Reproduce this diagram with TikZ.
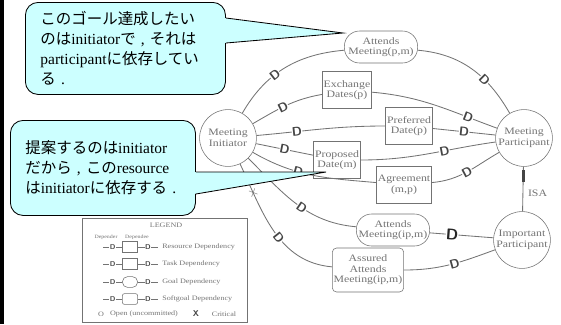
\documentclass[tikz,border=0pt]{standalone}
\usepackage{fontspec}
\setmainfont{Liberation Serif}
\newfontfamily\cjk{Noto Sans CJK JP}
\newfontfamily\diag[FakeStretch=1.2]{Liberation Serif}
\usetikzlibrary{shapes.geometric,shapes.misc,calc}

\definecolor{ink}{gray}{0.45}
\definecolor{notefill}{RGB}{204,255,255}

\begin{document}
\begin{tikzpicture}[
    x=0.025cm, y=-0.025cm,
    actor/.style={circle, draw=ink, fill=white, minimum size=1.42cm,
        inner sep=0pt, align=center, text=ink,
        font=\diag\fontsize{7}{7.5}\selectfont},
    resource/.style={rectangle, draw=ink, fill=white, minimum width=1.03cm,
        minimum height=0.92cm, inner sep=1pt, align=center, text=ink,
        font=\diag\fontsize{7}{7.5}\selectfont},
    goal/.style={resource, rounded corners=0.38cm, minimum width=1.83cm,
        minimum height=0.8cm},
    softgoal/.style={resource, rounded corners=3pt, minimum width=1.35cm,
        minimum height=1.1cm},
    link/.style={draw=ink, line width=0.6pt},
    dep/.style={sloped, fill=white, inner sep=0.2pt, text=ink!60!black,
        font=\sffamily\bfseries\fontsize{9}{9}\selectfont},
    crit/.style={dep, text=black!85, font=\sffamily\bfseries\fontsize{11}{11}\selectfont},
    isabar/.style={rectangle, fill=ink!60!black, minimum width=1.8pt,
        minimum height=0.3cm, inner sep=0pt},
    note/.style={rectangle, rounded corners=9pt, draw=black, line width=0.6pt,
        fill=notefill, align=left, inner xsep=0.375cm, inner ysep=0pt,
        font=\fontsize{11}{14.2}\selectfont},
    legtext/.style={text=ink, inner sep=0pt,
        font=\diag\fontsize{4.8}{5}\selectfont},
    ldep/.style={dep, font=\sffamily\bfseries\fontsize{5}{5}\selectfont},
    lshape/.style={draw=ink, fill=white, minimum width=0.38cm,
        minimum height=0.27cm, inner sep=0pt}
]
    \useasboundingbox (0,0) rectangle (561,324);
    \draw[line width=2.2pt] (2,0) -- (2,324);

    % actors
    \node[actor] (mi) at (228,138) {Meeting\\Initiator};
    \node[actor] (mp) at (524,138) {Meeting\\Participant};
    \node[actor] (ip) at (522,240) {Important\\Participant};

    % dependums
    \node[goal] (amp) at (381,47) {Attends\\Meeting(p,m)};
    \node[resource] (ex) at (347,90) {Exchange\\Dates(p)};
    \node[resource] (pref) at (409,126) {Preferred\\Date(p)};
    \node[resource] (prop) at (337,160) {Proposed\\Date(m)};
    \node[resource] (agr) at (404,185) {Agreement\\(m,p)};
    \node[goal] (aip) at (393,230) {Attends\\Meeting(ip,m)};
    \node[softgoal] (sg) at (368,270) {Assured\\Attends\\Meeting(ip,m)};

    % dependencies
    \draw[link] (mi) to[out=60, in=185] node[dep, pos=0.4] {D} (amp);
    \draw[link] (amp) to[out=-5, in=120] node[dep, pos=0.65] {D} (mp);
    \draw[link] (mi) to[out=30, in=190] node[dep, pos=0.45] {D} (ex);
    \draw[link] (ex) to[out=-5, in=160] node[dep, pos=0.78] {D} (mp);
    \draw[link] (mi) to[out=5, in=180] node[dep, pos=0.3] {D} (pref);
    \draw[link] (pref) -- node[dep, pos=0.5] {D} (mp);
    \draw[link] (mi) -- node[dep, pos=0.5] {D} (prop);
    \draw[link] (prop) to[out=0, in=188] node[dep, pos=0.63] {D} (mp);
    \draw[link] (mi) to[out=-30, in=175] node[dep, pos=0.38] {D} (agr);
    \draw[link] (agr) to[out=5, in=210] node[dep, pos=0.5] {D} (mp);
    \draw[link] (mi) to[out=-45, in=175] node[dep, pos=0.55] {D} (aip);
    \draw[link] (aip) -- node[crit, pos=0.35] {D} (ip);
    \draw[link] (mi) to[out=-65, in=175]
        node[pos=0.2, sloped, text=ink, inner sep=0pt] {$\times$}
        node[dep, pos=0.55] {D} (sg);
    \draw[link] (sg) to[out=0, in=200] node[dep, pos=0.55] {D} (ip);
    \draw[link] (mp) -- node[isabar, pos=0.2] {}
        node[pos=0.6, right, text=ink, font=\diag\fontsize{7}{7}\selectfont] {ISA} (ip);

    % legend
    \node[draw=ink, anchor=north west, minimum width=4.12cm,
        minimum height=2.6cm] (legend) at (82,218) {};
    \node[legtext] at (166,225) {LEGEND};
    \node[legtext, font=\diag\fontsize{3.5}{4}\selectfont] at (106,237) {Depender};
    \node[legtext, font=\diag\fontsize{3.5}{4}\selectfont] at (137,237) {Dependee};

    \node[lshape] (res) at (130,247) {};
    \coordinate (res1) at (103,247);
    \coordinate (res2) at (158,247);
    \draw[link] (res1) -- node[ldep] {D} (res);
    \draw[link] (res) -- node[ldep] {D} (res2);
    \node[legtext, anchor=west] at (162,247) {Resource Dependency};

    \node[lshape, chamfered rectangle, chamfered rectangle xsep=2pt] (task) at (130,264) {};
    \coordinate (task1) at (103,264);
    \coordinate (task2) at (158,264);
    \draw[link] (task1) -- node[ldep] {D} (task);
    \draw[link] (task) -- node[ldep] {D} (task2);
    \node[legtext, anchor=west] at (162,264) {Task Dependency};

    \node[lshape, rounded corners=0.13cm] (gl) at (130,282) {};
    \coordinate (gl1) at (103,282);
    \coordinate (gl2) at (158,282);
    \draw[link] (gl1) -- node[ldep] {D} (gl);
    \draw[link] (gl) -- node[ldep] {D} (gl2);
    \node[legtext, anchor=west] at (162,282) {Goal Dependency};

    \node[lshape, rounded corners=1.5pt] (soft) at (130,299) {};
    \coordinate (soft1) at (103,299);
    \coordinate (soft2) at (158,299);
    \draw[link] (soft1) -- node[ldep] {D} (soft);
    \draw[link] (soft) -- node[ldep] {D} (soft2);
    \node[legtext, anchor=west] at (162,299) {Softgoal Dependency};

    \node[legtext] at (101,314) {O};
    \node[legtext] at (144,314) {Open (uncommitted)};
    \node[legtext, text=ink!60!black, font=\sffamily\bfseries\fontsize{6}{6}\selectfont] at (196,314) {X};
    \node[legtext] at (224,314) {Critical};

    % callouts
    \node[note, anchor=north west, minimum width=5cm, minimum height=2.3cm,
        text width=4.25cm] (note1) at (25,2)
        {{\cjk このゴール達成したい}\\{\cjk のは}initiator{\cjk で} , {\cjk それは}\\participant{\cjk に依存してい}\\{\cjk る} .};
    \coordinate (tip1) at (343,33);
    \fill[notefill] ($(note1.north east)+(-2,16)$) -- (tip1)
        -- ($(note1.north east)+(-2,41)$) -- cycle;
    \draw[line width=0.6pt] ($(note1.north east)+(0,16)$) -- (tip1)
        -- ($(note1.north east)+(0,41)$);

    \node[note, anchor=north west, minimum width=4.625cm, minimum height=2.375cm,
        text width=3.875cm] (note2) at (10,120)
        {{\cjk 提案するのは}initiator\\{\cjk だから} , {\cjk この}resource\\{\cjk は}initiator{\cjk に依存する} .};
    \coordinate (tip2) at (326,172);
    \fill[notefill] ($(note2.north east)+(-2,52)$) -- (tip2)
        -- ($(note2.north east)+(-2,74)$) -- cycle;
    \draw[line width=0.6pt] ($(note2.north east)+(0,52)$) -- (tip2)
        -- ($(note2.north east)+(0,74)$);
\end{tikzpicture}
\end{document}
